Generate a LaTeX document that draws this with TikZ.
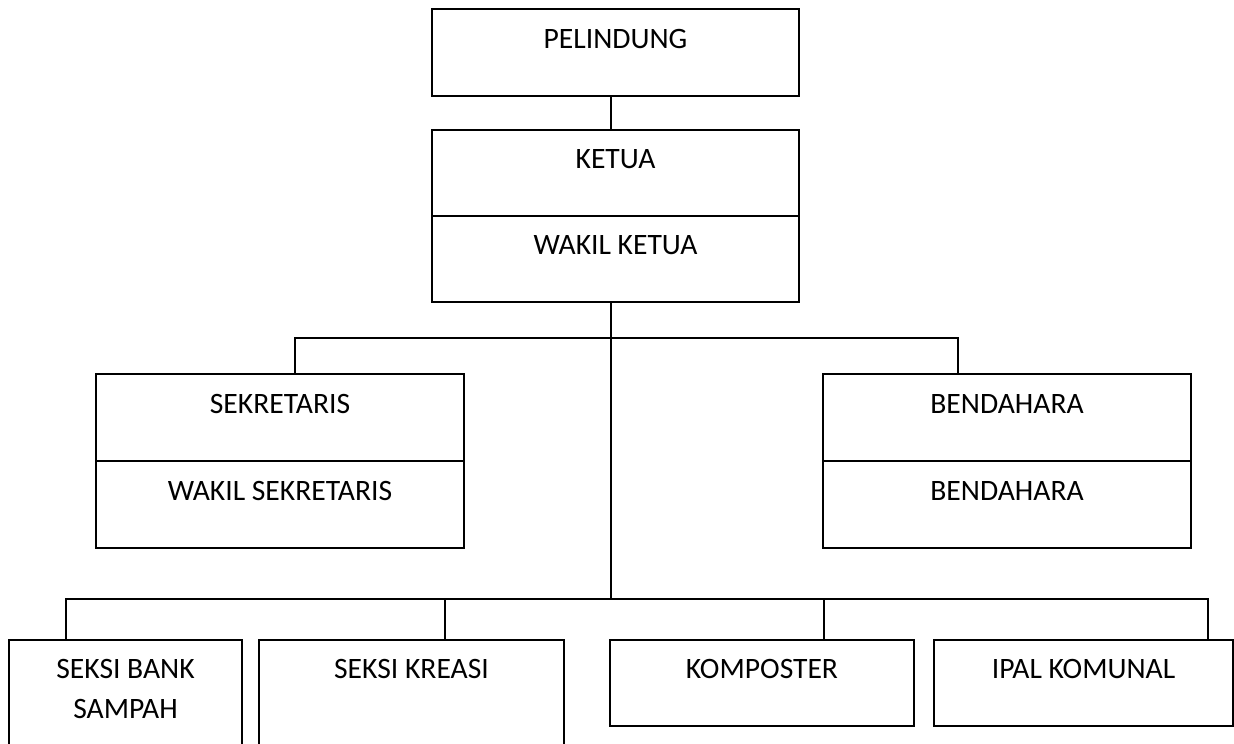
\documentclass[tikz,border=0pt]{standalone}
\usepackage{fontspec}
\setmainfont{Carlito}
\usetikzlibrary{positioning}
\begin{document}
\begin{tikzpicture}[x=0.75pt,y=-0.75pt,line width=1.1pt,
  every node/.style={outer sep=0pt,inner sep=0pt}]
\tikzstyle{post}=[draw,anchor=north west,align=center,
  font=\fontsize{22.2}{30}\selectfont,text height=28.5pt,text depth=36pt]
\clip (0,0) rectangle (1234,743);
%
\node (pelindung) [post,minimum width=275.25pt,text height=29.25pt] at (432,9) {PELINDUNG};
\node (ketua) [post,minimum width=275.25pt] at (432,130) {KETUA};
\node (wakilketua) [post,minimum width=275.25pt,below=0pt of ketua] {WAKIL KETUA};
\draw ([xshift=-3.375pt]pelindung.south) -- ([xshift=-3.375pt]ketua.north);
%
\node (sekretaris) [post,minimum width=276pt,text height=29.25pt] at (96,374) {SEKRETARIS};
\node (wakilsekretaris) [post,minimum width=276pt,text height=29.25pt,below=0pt of sekretaris] {WAKIL SEKRETARIS};
\node (bendahara1) [post,minimum width=276pt,text height=29.25pt] at (823,374) {BENDAHARA};
\node (bendahara2) [post,minimum width=276pt,text height=29.25pt,below=0pt of bendahara1] {BENDAHARA};
\coordinate (split) at ([xshift=-3.375pt,yshift=-27pt]wakilketua.south);
\draw ([xshift=11.25pt]sekretaris.north) |- (split) -| ([xshift=-36.75pt]bendahara1.north);
%
\node (bank) [post,minimum width=174.75pt,text height=58.5pt,text depth=45pt] at (9,640) {SEKSI BANK\\SAMPAH};
\node (kreasi) [post,minimum width=228.75pt,text depth=75pt] at (259,640) {SEKSI KREASI};
\node (komposter) [post,minimum width=228pt] at (610,640) {KOMPOSTER};
\node (ipal) [post,minimum width=224.25pt] at (934,640) {IPAL KOMUNAL};
\coordinate (bus) at ([xshift=-3.375pt,yshift=-222.75pt]wakilketua.south);
\draw ([xshift=-3.375pt]wakilketua.south) -- (bus);
\draw ([xshift=-44.625pt]bank.north) |- (bus) -| ([xshift=93.375pt]ipal.north);
\draw ([xshift=25.125pt]kreasi.north) |- (bus);
\draw ([xshift=46.5pt]komposter.north) |- (bus);
\end{tikzpicture}
\end{document}
